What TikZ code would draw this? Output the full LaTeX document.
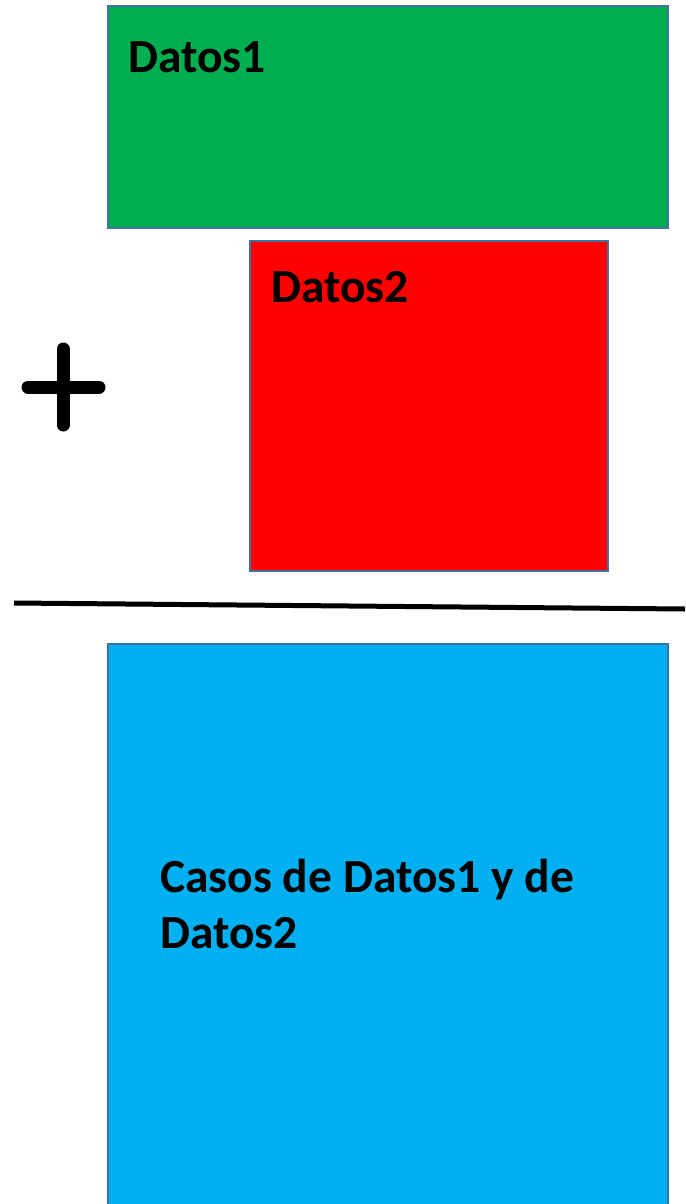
\documentclass[tikz,border=0pt]{standalone}
\usepackage{fontspec}
\setmainfont{Carlito}
\usepackage{tikz}
\usetikzlibrary{arrows.meta, positioning}

\definecolor{datgreen}{HTML}{00B050}
\definecolor{datred}{HTML}{FF0000}
\definecolor{datblue}{HTML}{00B0F0}
\definecolor{edgeblue}{HTML}{41719C}

\begin{document}
\begin{tikzpicture}[x=1pt,y=-1pt,
  caja/.style={rectangle, draw=edgeblue, line width=2pt, anchor=north west, inner sep=0pt},
  rotulo/.style={anchor=base west, inner sep=0pt, font=\fontsize{47.5}{56}\selectfont\bfseries},
  signo/.style={line width=13pt, line cap=round}]
\useasboundingbox (0,0) rectangle (685,1204);

\node[caja, fill=datgreen, minimum width=560pt, minimum height=222pt] (d1) at (107,5) {};
\node[caja, fill=datred, minimum width=358pt, minimum height=330pt] (d2) at (249,240) {};
\node[caja, fill=datblue, minimum width=560pt, minimum height=580pt] (res) at (107,643) {};

\node[rotulo] (t1) at (128,73) {Datos1};
\node[rotulo] (t2) at (271,302) {Datos2};
% el ancla base cae en la ultima linea
\node[rotulo, align=left] (t3) at (160,948) {Casos de Datos1 y de\\Datos2};

% signo de suma
\coordinate (mas) at (63,387);
\draw[signo] ([yshift=-38pt]mas) -- ([yshift=38pt]mas);
\draw[signo] ([xshift=-35pt]mas) -- ([xshift=36pt]mas);

% raya de resultado
\coordinate (r0) at (14,603);
\coordinate (r1) at (685,609);
\draw[line width=5pt] (r0) -- (r1);

\end{tikzpicture}
\end{document}
